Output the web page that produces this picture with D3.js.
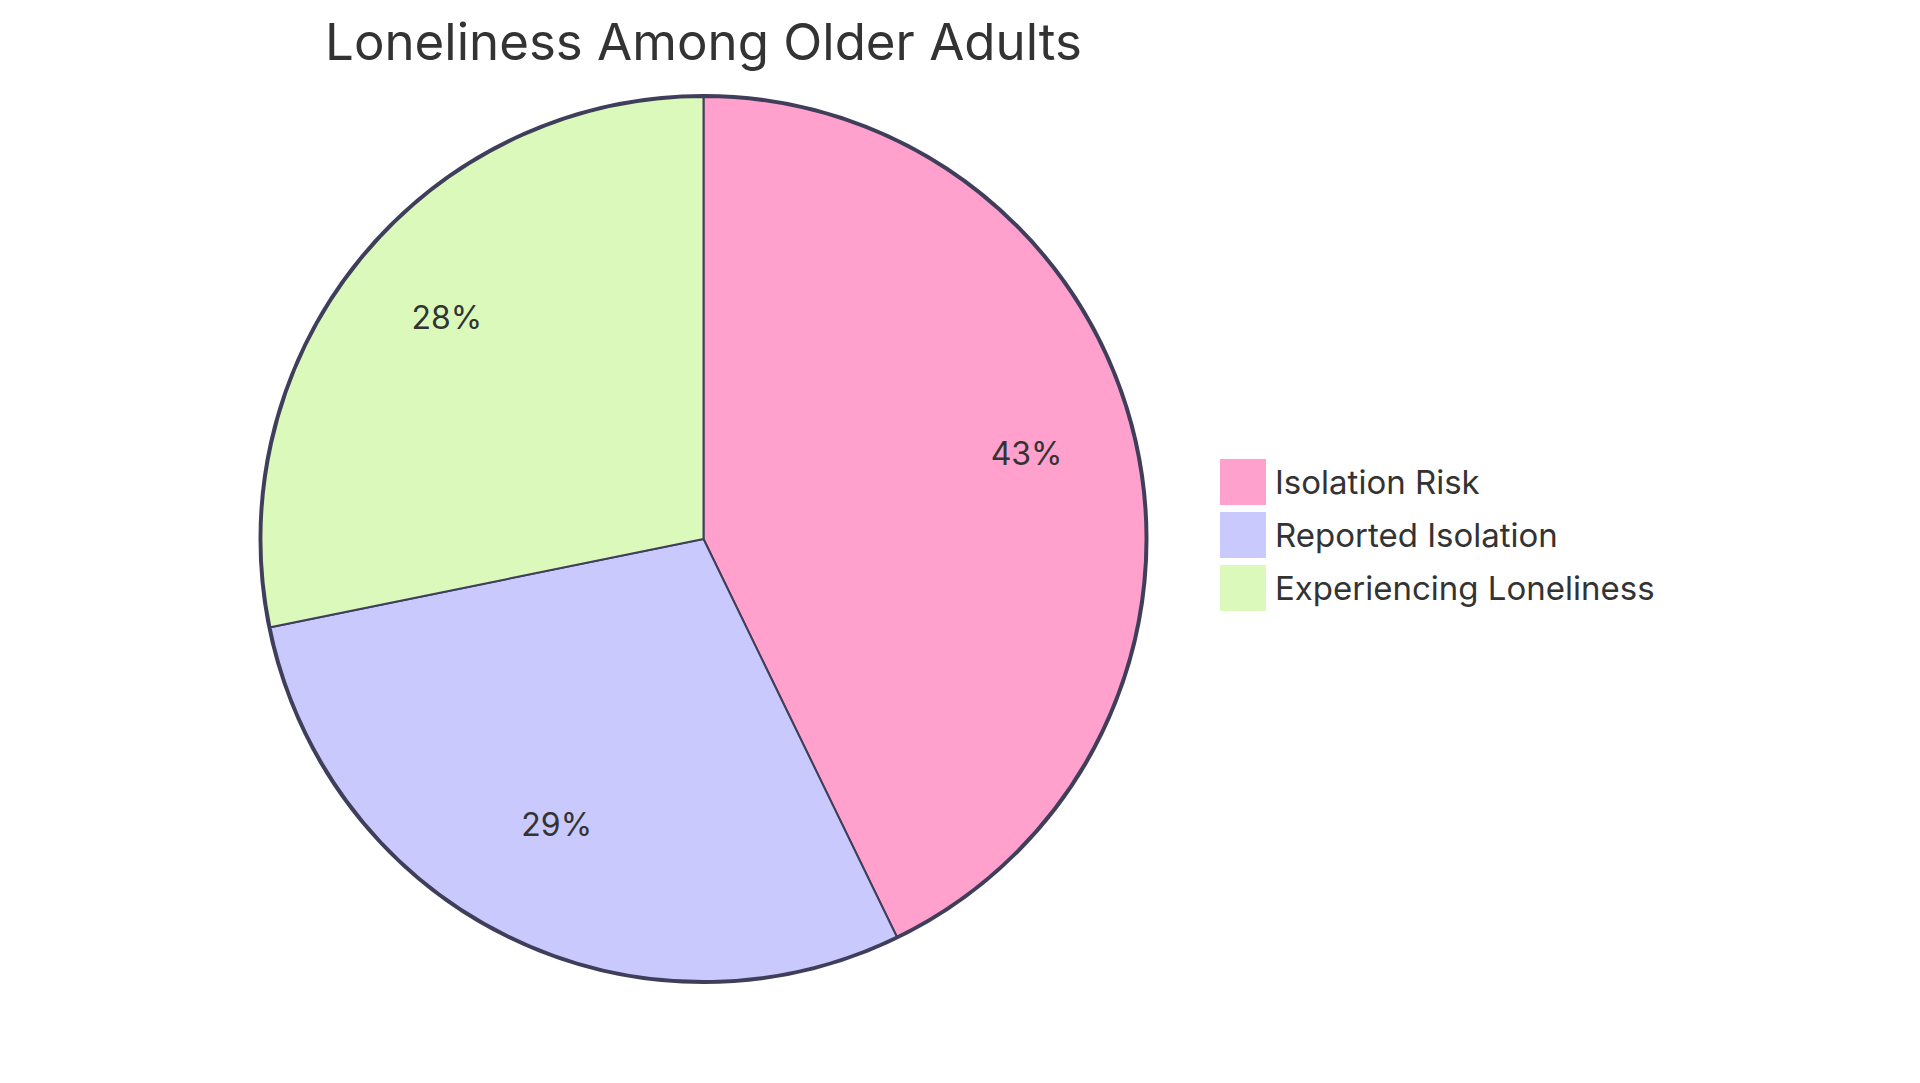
<!DOCTYPE html>
<html>
<head>
<meta charset="utf-8">
<script src="https://cdn.jsdelivr.net/npm/d3@7"></script>
<style>
  html, body { margin: 0; padding: 0; background: #fff; }
  svg { display: block; font-family: Inter, "Noto Sans", sans-serif; }
</style>
</head>
<body>
<div id="chart"></div>
<script>
const title = "Loneliness Among Older Adults";
const categories = ["Isolation Risk", "Reported Isolation", "Experiencing Loneliness"];
const values = [42.8, 29, 28.2];
const colors = ["#ffa1cc", "#c9c9fe", "#dbf9bb"];

const width = 1920, height = 1083;
const cx = 703.5, cy = 539, radius = 442;

const svg = d3.select("#chart").append("svg")
    .attr("width", width)
    .attr("height", height);

const data = categories.map((name, i) => ({ name, value: values[i], color: colors[i] }));
const total = d3.sum(values);

const pie = d3.pie().value(d => d.value).sort(null);
const arc = d3.arc().innerRadius(0).outerRadius(radius);
const labelArc = d3.arc().innerRadius(radius * 0.75).outerRadius(radius * 0.75);

const g = svg.append("g").attr("transform", `translate(${cx},${cy})`);

g.append("circle")
    .attr("r", radius + 1)
    .attr("fill", "none")
    .attr("stroke", "#3f3f5c")
    .attr("stroke-width", 4);

g.selectAll("path.slice")
    .data(pie(data))
    .enter().append("path")
        .attr("class", "slice")
        .attr("d", arc)
        .attr("fill", d => d.data.color)
        .attr("stroke", "#3f3f5c")
        .attr("stroke-width", 2);

g.selectAll("text.pct")
    .data(pie(data))
    .enter().append("text")
        .attr("class", "pct")
        .attr("transform", d => `translate(${labelArc.centroid(d)})`)
        .attr("text-anchor", "middle")
        .attr("font-size", 32)
        .attr("fill", "#333")
        .text(d => `${Math.round(d.data.value / total * 100)}%`);

svg.append("text")
    .attr("x", cx)
    .attr("y", 60)
    .attr("text-anchor", "middle")
    .attr("font-size", 51)
    .attr("fill", "#333")
    .text(title);

// legend
const legend = svg.selectAll("g.legend")
    .data(data)
    .enter().append("g")
        .attr("class", "legend")
        .attr("transform", (d, i) => `translate(1220,${459 + i * 53})`);

legend.append("rect")
    .attr("width", 46)
    .attr("height", 46)
    .attr("fill", d => d.color);

legend.append("text")
    .attr("x", 55)
    .attr("y", 35)
    .attr("font-size", 33)
    .attr("fill", "#333")
    .text(d => d.name);
</script>
</body>
</html>
